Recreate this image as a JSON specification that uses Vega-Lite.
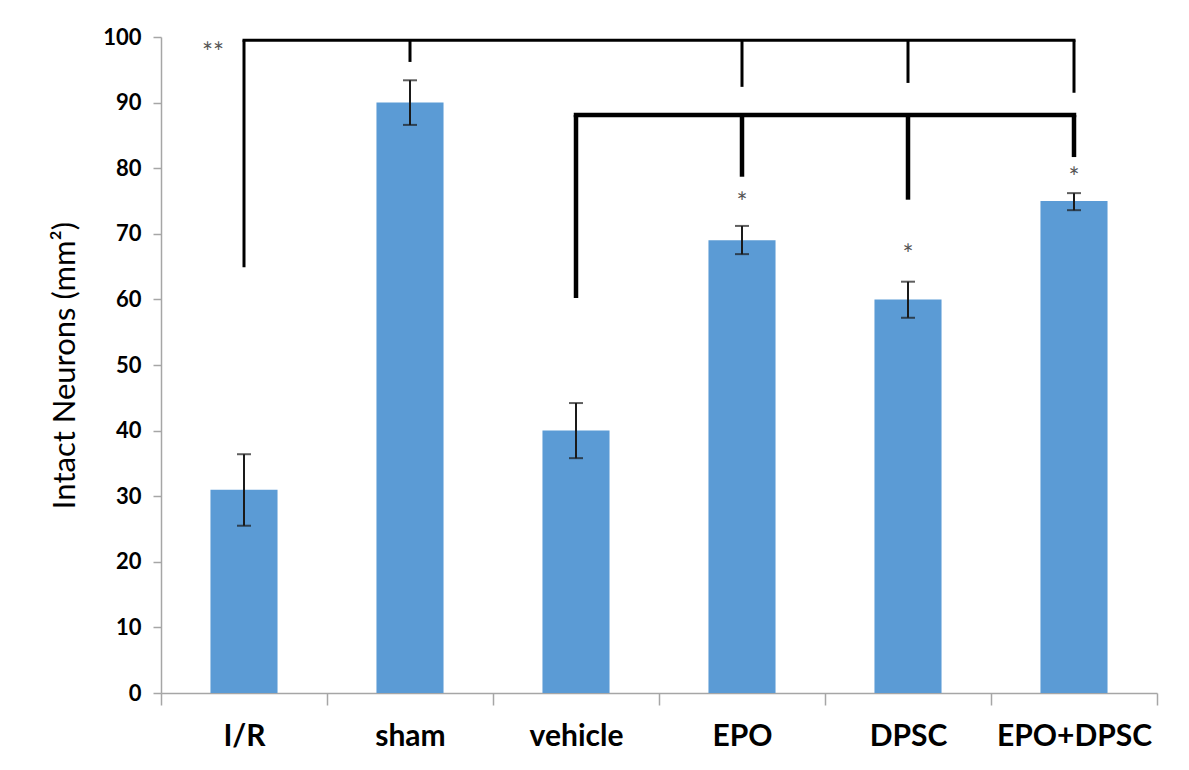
{
  "$schema": "https://vega.github.io/schema/vega-lite/v6.json",
  "width": 996,
  "height": 656,
  "autosize": {"type": "none"},
  "padding": {"left": 161, "top": 37, "right": 32, "bottom": 77},
  "background": "white",
  "config": {
    "view": {"stroke": null},
    "font": "Lato",
    "axisY": {
      "domainColor": "#A6A6A6", "domainWidth": 1.5, "tickColor": "#A6A6A6", "tickWidth": 1.5, "tickSize": 8,
      "labelFont": "Lato", "labelFontWeight": "bold", "labelFontSize": 22, "labelColor": "black", "labelPadding": 12,
      "titleFont": "Lato", "titleFontWeight": "normal", "titleFontSize": 31, "titleColor": "black", "titlePadding": 21,
      "grid": false
    },
    "axisX": {
      "domainColor": "#A6A6A6", "domainWidth": 1.5, "tickColor": "#A6A6A6", "tickWidth": 1.5, "tickSize": 12,
      "labelFont": "Lato", "labelFontWeight": "bold", "labelFontSize": 30, "labelColor": "black", "labelPadding": 16,
      "labelAngle": 0, "tickBand": "extent", "grid": false
    }
  },
  "datasets": {
    "bars": [
      {"group": "I/R", "mean": 31, "lo": 25.5, "hi": 36.4},
      {"group": "sham", "mean": 90, "lo": 86.6, "hi": 93.4},
      {"group": "vehicle", "mean": 40, "lo": 35.8, "hi": 44.2},
      {"group": "EPO", "mean": 69, "lo": 66.9, "hi": 71.2},
      {"group": "DPSC", "mean": 60, "lo": 57.2, "hi": 62.7},
      {"group": "EPO+DPSC", "mean": 75, "lo": 73.6, "hi": 76.2}
    ],
    "legs": [
      {"bracket": "top", "group": "I/R", "y1": 64.9, "y2": 99.5},
      {"bracket": "top", "group": "sham", "y1": 96.2, "y2": 99.5},
      {"bracket": "top", "group": "EPO", "y1": 92.4, "y2": 99.5},
      {"bracket": "top", "group": "DPSC", "y1": 93.0, "y2": 99.5},
      {"bracket": "top", "group": "EPO+DPSC", "y1": 91.5, "y2": 99.5},
      {"bracket": "inner", "group": "vehicle", "y1": 60.2, "y2": 88.1},
      {"bracket": "inner", "group": "EPO", "y1": 78.7, "y2": 88.1},
      {"bracket": "inner", "group": "DPSC", "y1": 75.2, "y2": 88.1},
      {"bracket": "inner", "group": "EPO+DPSC", "y1": 81.7, "y2": 88.1}
    ],
    "spans": [
      {"bracket": "top", "group": "I/R", "y": 99.5},
      {"bracket": "top", "group": "EPO+DPSC", "y": 99.5},
      {"bracket": "inner", "group": "vehicle", "y": 88.1},
      {"bracket": "inner", "group": "EPO+DPSC", "y": 88.1}
    ],
    "stars": [
      {"group": "EPO", "y": 75.6, "label": "*"},
      {"group": "DPSC", "y": 67.7, "label": "*"},
      {"group": "EPO+DPSC", "y": 79.4, "label": "*"}
    ],
    "stars2": [
      {"group": "I/R", "y": 98.5, "label": "**"}
    ]
  },
  "layer": [
    {
      "data": {"name": "bars"},
      "mark": {"type": "bar", "color": "#5B9BD5", "width": {"band": 0.404}},
      "encoding": {
        "x": {"field": "group", "type": "nominal", "title": null,
              "scale": {"domain": ["I/R", "sham", "vehicle", "EPO", "DPSC", "EPO+DPSC"], "paddingInner": 0, "paddingOuter": 0}},
        "y": {"field": "mean", "type": "quantitative", "title": "Intact Neurons (mm²)",
              "scale": {"domain": [0, 100], "nice": false},
              "axis": {"values": [0, 10, 20, 30, 40, 50, 60, 70, 80, 90, 100]}}
      }
    },
    {
      "data": {"name": "bars"},
      "mark": {"type": "rule", "color": "#1a1a1a", "strokeWidth": 2},
      "encoding": {
        "x": {"field": "group", "type": "nominal", "title": null},
        "y": {"field": "lo", "type": "quantitative", "title": "Intact Neurons (mm²)"},
        "y2": {"field": "hi"}
      }
    },
    {
      "data": {"name": "bars"},
      "mark": {"type": "tick", "color": "#1a1a1a", "thickness": 2, "size": 14},
      "encoding": {
        "x": {"field": "group", "type": "nominal", "title": null},
        "y": {"field": "lo", "type": "quantitative", "title": "Intact Neurons (mm²)"}
      }
    },
    {
      "data": {"name": "bars"},
      "mark": {"type": "tick", "color": "#1a1a1a", "thickness": 2, "size": 14},
      "encoding": {
        "x": {"field": "group", "type": "nominal", "title": null},
        "y": {"field": "hi", "type": "quantitative", "title": "Intact Neurons (mm²)"}
      }
    },
    {
      "data": {"name": "legs"},
      "transform": [{"filter": "datum.bracket === 'top'"}],
      "mark": {"type": "rule", "color": "black", "strokeWidth": 3},
      "encoding": {
        "x": {"field": "group", "type": "nominal", "title": null},
        "y": {"field": "y1", "type": "quantitative", "title": "Intact Neurons (mm²)"},
        "y2": {"field": "y2"}
      }
    },
    {
      "data": {"name": "legs"},
      "transform": [{"filter": "datum.bracket === 'inner'"}],
      "mark": {"type": "rule", "color": "black", "strokeWidth": 4.5},
      "encoding": {
        "x": {"field": "group", "type": "nominal", "title": null},
        "y": {"field": "y1", "type": "quantitative", "title": "Intact Neurons (mm²)"},
        "y2": {"field": "y2"}
      }
    },
    {
      "data": {"name": "spans"},
      "transform": [{"filter": "datum.bracket === 'top'"}],
      "mark": {"type": "line", "color": "black", "strokeWidth": 3, "strokeCap": "square"},
      "encoding": {
        "x": {"field": "group", "type": "nominal", "title": null},
        "y": {"field": "y", "type": "quantitative", "title": "Intact Neurons (mm²)"}
      }
    },
    {
      "data": {"name": "spans"},
      "transform": [{"filter": "datum.bracket === 'inner'"}],
      "mark": {"type": "line", "color": "black", "strokeWidth": 4.5, "strokeCap": "square"},
      "encoding": {
        "x": {"field": "group", "type": "nominal", "title": null},
        "y": {"field": "y", "type": "quantitative", "title": "Intact Neurons (mm²)"}
      }
    },
    {
      "data": {"name": "stars"},
      "mark": {"type": "text", "color": "#555555", "fontSize": 26, "baseline": "middle", "dy": 7},
      "encoding": {
        "x": {"field": "group", "type": "nominal", "title": null},
        "y": {"field": "y", "type": "quantitative", "title": "Intact Neurons (mm²)"},
        "text": {"field": "label"}
      }
    },
    {
      "data": {"name": "stars2"},
      "mark": {"type": "text", "color": "#555555", "fontSize": 26, "baseline": "middle", "align": "right", "dx": -20, "dy": 7},
      "encoding": {
        "x": {"field": "group", "type": "nominal", "title": null},
        "y": {"field": "y", "type": "quantitative", "title": "Intact Neurons (mm²)"},
        "text": {"field": "label"}
      }
    }
  ]
}
